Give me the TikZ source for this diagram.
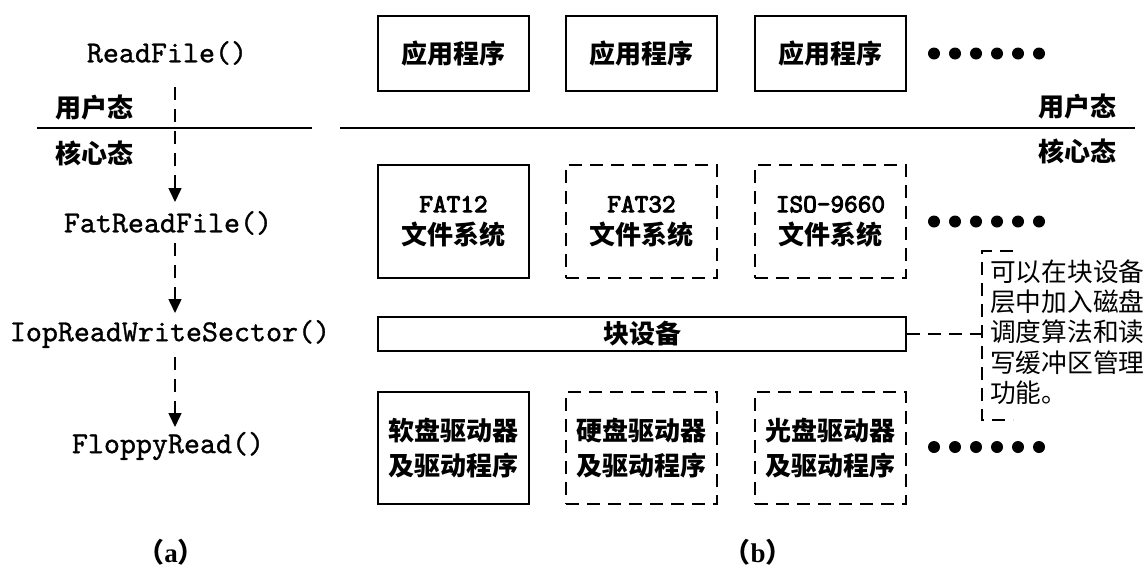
\documentclass[tikz,border=0pt]{standalone}
\usepackage{fontspec}
\usetikzlibrary{arrows.meta}
\newfontfamily\cjk{Noto Sans CJK SC}
\newfontfamily\monof{lmmono10-regular}[Extension=.otf, FakeBold=1]
\newfontfamily\monob{lmmono10-regular}[Extension=.otf, FakeBold=3.5]
\newfontfamily\serif{Liberation Serif}
\tikzset{
  fn/.style={font=\monof\fontsize{30.5}{36}\selectfont, inner sep=0pt},
  lbl/.style={font=\cjk\bfseries\fontsize{26}{30}\selectfont, inner sep=0pt},
  sbox/.style={draw, line width=1.3pt, minimum width=151pt, inner sep=0pt, align=center,
    font=\cjk\bfseries\fontsize{26}{32}\selectfont},
  dashpat/.style={dash pattern=on 13pt off 8pt},
  dbox/.style={sbox, dashpat},
  rowthree/.style={font=\cjk\bfseries\fontsize{26}{35}\selectfont},
  flow/.style={line width=1.5pt, dash pattern=on 13pt off 9pt, -{Triangle[width=13pt,length=14pt]}},
  sepline/.style={line width=2.8pt},
  note/.style={font=\cjk\fontsize{25.7}{30.2}\selectfont, align=left, inner sep=0pt},
  link/.style={line width=1.3pt, dashpat},
  caption/.style={font=\cjk\bfseries\fontsize{27}{30}\selectfont, inner sep=0pt},
}
\begin{document}
\begin{tikzpicture}[x=1pt,y=-1pt]
\useasboundingbox (0,0) rectangle (1148,571);

% (a) call chain
\node[fn] (rf)  at (167,53)  {ReadFile()};
\node[fn] (frf) at (168,223) {FatReadFile()};
\node[fn] (iop) at (170,334) {IopReadWriteSector()};
\node[fn] (fr)  at (168,446) {FloppyRead()};
\draw[flow] ([xshift=8pt,yshift=-34pt]rf.center) -- ([xshift=7pt,yshift=21pt]frf.center);
\draw[flow] ([xshift=7pt,yshift=-20pt]frf.center) -- ([xshift=5pt,yshift=21pt]iop.center);
\draw[flow] ([xshift=5pt,yshift=-23pt]iop.center) -- ([xshift=7pt,yshift=19pt]fr.center);

% separator lines
\draw[sepline] (37,128) -- (312,128);
\draw[sepline] (340,128) -- (1135,128);
\node[lbl] (u1) at (94,108) {用户态};
\node[lbl] (k1) at (94,153) {核心态};
\node[lbl] (u2) at (1077,107) {用户态};
\node[lbl] (k2) at (1077,151) {核心态};

% (b) layers
\node[sbox, minimum height=75pt] (app1) at (453.5,53.5) {应用程序};
\node[sbox, minimum height=75pt] (app2) at (641.5,53.5) {应用程序};
\node[sbox, minimum height=75pt] (app3) at (830.5,53.5) {应用程序};

\node[sbox, minimum height=113pt] (fs1) at (453.5,221.5) {{\monob FAT12}\\文件系统};
\node[dbox, minimum height=113pt] (fs2) at (641.5,221.5) {{\monob FAT32}\\文件系统};
\node[dbox, minimum height=113pt] (fs3) at (830.5,221.5) {{\monob ISO-9660}\\文件系统};

\node[sbox, minimum width=528pt, minimum height=34pt] (bar) at (642,334) {块设备};

\node[sbox, rowthree, minimum height=112pt] (dr1) at (453.5,448) {软盘驱动器\\及驱动程序};
\node[dbox, rowthree, minimum height=112pt] (dr2) at (641.5,448) {硬盘驱动器\\及驱动程序};
\node[dbox, rowthree, minimum height=112pt] (dr3) at (830.5,448) {光盘驱动器\\及驱动程序};

% dots
\foreach \r in {53.5,221.5,447} {
  \foreach \i in {0,...,5} {
    \fill ({934+21*\i},\r) circle (6pt);
  }
}

% note
\draw[link] (1013,251) -- (982,251) -- (982,420) -- (1013,420);
\node[note, anchor=west] (nt) at (990,332) {可以在块设备\\层中加入磁盘\\调度算法和读\\写缓冲区管理\\功能。};
\coordinate (nb) at (982,334);
\draw[link] (bar.east) -- (nb);

% captions
\node[caption] (ca) at (171,552) {（{\serif\bfseries a}）};
\node[caption] (cb) at (758,552) {（{\serif\bfseries b}）};
\end{tikzpicture}
\end{document}
